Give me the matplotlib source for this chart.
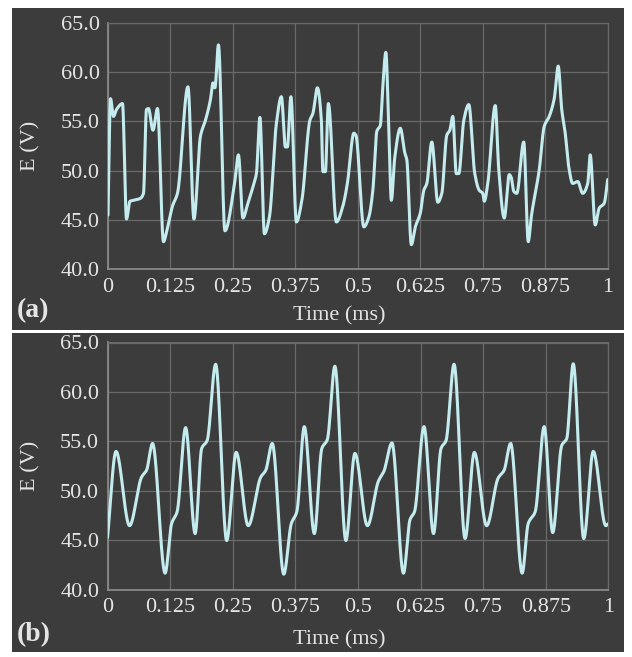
import numpy as np
import matplotlib
matplotlib.use("Agg")
import matplotlib.pyplot as plt
from matplotlib.patches import Rectangle

# ---- data -------------------------------------------------------------
# (a) measured waveform
time_a = [0.000, 0.005, 0.011, 0.017, 0.029, 0.037, 0.044, 0.052, 0.065, 0.071,
          0.077, 0.081, 0.090, 0.099, 0.111, 0.119, 0.129, 0.139, 0.160, 0.172,
          0.185, 0.195, 0.205, 0.210, 0.214, 0.221, 0.234, 0.253, 0.261, 0.270,
          0.280, 0.292, 0.297, 0.304, 0.313, 0.323, 0.337, 0.347, 0.355, 0.359,
          0.366, 0.377, 0.388, 0.404, 0.410, 0.419, 0.427, 0.430, 0.435, 0.441,
          0.457, 0.470, 0.479, 0.492, 0.496, 0.512, 0.522, 0.530, 0.538, 0.545,
          0.550, 0.556, 0.562, 0.567, 0.574, 0.585, 0.594, 0.598, 0.607, 0.615,
          0.625, 0.632, 0.638, 0.648, 0.660, 0.668, 0.678, 0.684, 0.690, 0.697,
          0.702, 0.712, 0.722, 0.734, 0.743, 0.750, 0.753, 0.760, 0.775, 0.782,
          0.793, 0.803, 0.807, 0.812, 0.818, 0.832, 0.841, 0.847, 0.863, 0.873,
          0.883, 0.893, 0.901, 0.908, 0.915, 0.922, 0.930, 0.940, 0.950, 0.960,
          0.965, 0.975, 0.983, 0.993, 1.000]
volt_a = [45.5, 57.3, 55.5, 56.2, 56.8, 45.1, 46.9, 47.0, 47.2, 47.7,
          56.2, 56.3, 54.1, 56.3, 42.8, 44.2, 46.4, 47.7, 58.5, 45.1,
          53.5, 55.1, 57.2, 58.9, 58.4, 62.75, 43.9, 48.6, 51.6, 45.2,
          46.7, 48.7, 49.7, 55.4, 43.6, 45.3, 54.8, 57.5, 52.4, 52.4,
          57.5, 44.8, 47.0, 55.1, 55.8, 58.4, 55.1, 49.9, 49.9, 56.8,
          44.8, 46.4, 48.7, 53.8, 53.6, 44.3, 45.3, 48.0, 54.0, 54.6,
          58.5, 62.0, 54.1, 47.0, 51.4, 54.3, 51.8, 51.1, 42.5, 44.3,
          45.7, 48.0, 48.7, 52.9, 46.8, 47.7, 53.6, 54.1, 55.5, 49.7,
          49.7, 55.1, 56.7, 49.7, 48.0, 47.7, 46.9, 48.7, 56.6, 50.1,
          45.2, 49.6, 49.3, 47.9, 47.7, 52.9, 42.8, 45.3, 50.1, 54.5,
          55.5, 57.3, 60.6, 56.2, 53.8, 50.4, 48.7, 48.9, 47.7, 48.7,
          51.6, 44.5, 46.2, 46.7, 49.1]

# (b) simulated waveform
time_b = [0.000, 0.017, 0.044, 0.068, 0.078, 0.090, 0.115, 0.128, 0.139, 0.156,
          0.175, 0.188, 0.199, 0.216, 0.238, 0.257, 0.281, 0.306, 0.316, 0.329,
          0.352, 0.367, 0.378, 0.393, 0.413, 0.428, 0.439, 0.454, 0.476, 0.494,
          0.519, 0.541, 0.552, 0.568, 0.591, 0.604, 0.613, 0.632, 0.651, 0.666,
          0.676, 0.692, 0.714, 0.7325, 0.757, 0.780, 0.792, 0.805, 0.828, 0.840,
          0.854, 0.872, 0.889, 0.907, 0.917, 0.930, 0.951, 0.970, 0.995, 1.000]
volt_b = [45.3, 54.0, 46.5, 51.4, 52.1, 54.8, 41.7, 46.7, 47.9, 56.4,
          45.7, 54.3, 55.1, 62.8, 45.0, 53.9, 46.5, 51.4, 52.1, 54.8,
          41.6, 46.7, 47.9, 56.5, 45.7, 54.3, 55.2, 62.6, 45.0, 53.8,
          46.5, 51.0, 52.0, 54.85, 41.7, 47.1, 47.9, 56.5, 45.7, 54.3,
          55.1, 62.8, 45.2, 53.9, 46.5, 51.3, 52.1, 54.8, 41.7, 46.7,
          47.9, 56.5, 45.8, 54.6, 55.3, 62.85, 45.2, 54.0, 46.5, 46.7]

x_ticks = [0, 0.125, 0.25, 0.375, 0.5, 0.625, 0.75, 0.875, 1]
x_tick_labels = ["0", "0.125", "0.25", "0.375", "0.5", "0.625", "0.75", "0.875", "1"]
y_ticks = [40, 45, 50, 55, 60, 65]
y_tick_labels = ["40.0", "45.0", "50.0", "55.0", "60.0", "65.0"]

# ---- style -------------------------------------------------------------
DARK = "#3c3c3c"
GRID = "#6a6a6a"
SPINE = "#8e8e8e"
LINE = "#c4ecef"
TEXT = "#e4e4e4"
FONT = ["Liberation Serif", "DejaVu Serif"]

W, H = 632, 657


def pchip(x, y, xs):
    """Shape-preserving cubic (Fritsch-Carlson) for a smoothed line."""
    x = np.asarray(x, float)
    y = np.asarray(y, float)
    h = np.diff(x)
    d = np.diff(y) / h
    m = np.zeros_like(y)
    m[0], m[-1] = d[0], d[-1]
    for k in range(1, len(x) - 1):
        if d[k - 1] * d[k] > 0:
            w1 = 2 * h[k] + h[k - 1]
            w2 = h[k] + 2 * h[k - 1]
            m[k] = (w1 + w2) / (w1 / d[k - 1] + w2 / d[k])
    idx = np.clip(np.searchsorted(x, xs) - 1, 0, len(x) - 2)
    hk = h[idx]
    s = (xs - x[idx]) / hk
    h00 = 2 * s**3 - 3 * s**2 + 1
    h10 = s**3 - 2 * s**2 + s
    h01 = -2 * s**3 + 3 * s**2
    h11 = s**3 - s**2
    return h00 * y[idx] + h10 * hk * m[idx] + h01 * y[idx + 1] + h11 * hk * m[idx + 1]


def fx(px):
    return px / W


def fy(py):
    return 1 - py / H


fig = plt.figure(figsize=(W / 100, H / 100), dpi=100, facecolor="white")

# dark panel backgrounds
for top, bottom in [(8, 330), (333, 652)]:
    fig.add_artist(Rectangle((fx(12), fy(bottom)), fx(624) - fx(12), fy(top) - fy(bottom),
                             transform=fig.transFigure, facecolor=DARK,
                             edgecolor="none", zorder=0))


def make_panel(left, right, top, bottom, t, v, tag, tag_y, xlabel_y):
    ax = fig.add_axes([fx(left), fy(bottom), (right - left) / W, (bottom - top) / H])
    ax.set_facecolor("none")
    ts = np.linspace(0, 1, 2500)
    ax.plot(ts, pchip(t, v, ts), color=LINE, lw=2.2, solid_capstyle="round", zorder=3)
    ax.set_xlim(0, 1)
    ax.set_ylim(40, 65)
    ax.set_xticks(x_ticks)
    ax.set_xticklabels(x_tick_labels)
    ax.set_yticks(y_ticks)
    ax.set_yticklabels(y_tick_labels)
    ax.grid(True, color=GRID, lw=0.9, zorder=1)
    ax.tick_params(length=0, colors=TEXT, labelsize=16)
    ax.tick_params(axis="x", pad=6)
    ax.tick_params(axis="y", pad=6)
    for lab in ax.get_xticklabels() + ax.get_yticklabels():
        lab.set_family(FONT)
    for side in ("top", "right"):
        ax.spines[side].set_color(GRID)
        ax.spines[side].set_linewidth(0.9)
    for side in ("left", "bottom"):
        ax.spines[side].set_color(SPINE)
        ax.spines[side].set_linewidth(1.2)
    ymid = (top + bottom) / 2
    fig.text(fx(31), fy(ymid), "E (V)", rotation=90, ha="center", va="center",
             color=TEXT, fontsize=16, family=FONT)
    fig.text(fx(339), fy(xlabel_y), "Time (ms)", ha="center", va="center",
             color=TEXT, fontsize=16, family=FONT)
    fig.text(fx(17), fy(tag_y), tag, ha="left", va="center", color=TEXT,
             fontsize=20, fontweight="bold", family=FONT)
    return ax


make_panel(108, 607.7, 22.7, 269.3, time_a, volt_a, "(a)", 311, 316)
make_panel(107.5, 608.3, 342.5, 590, time_b, volt_b, "(b)", 635, 640)

fig.savefig("out.png", dpi=100, facecolor="white")
